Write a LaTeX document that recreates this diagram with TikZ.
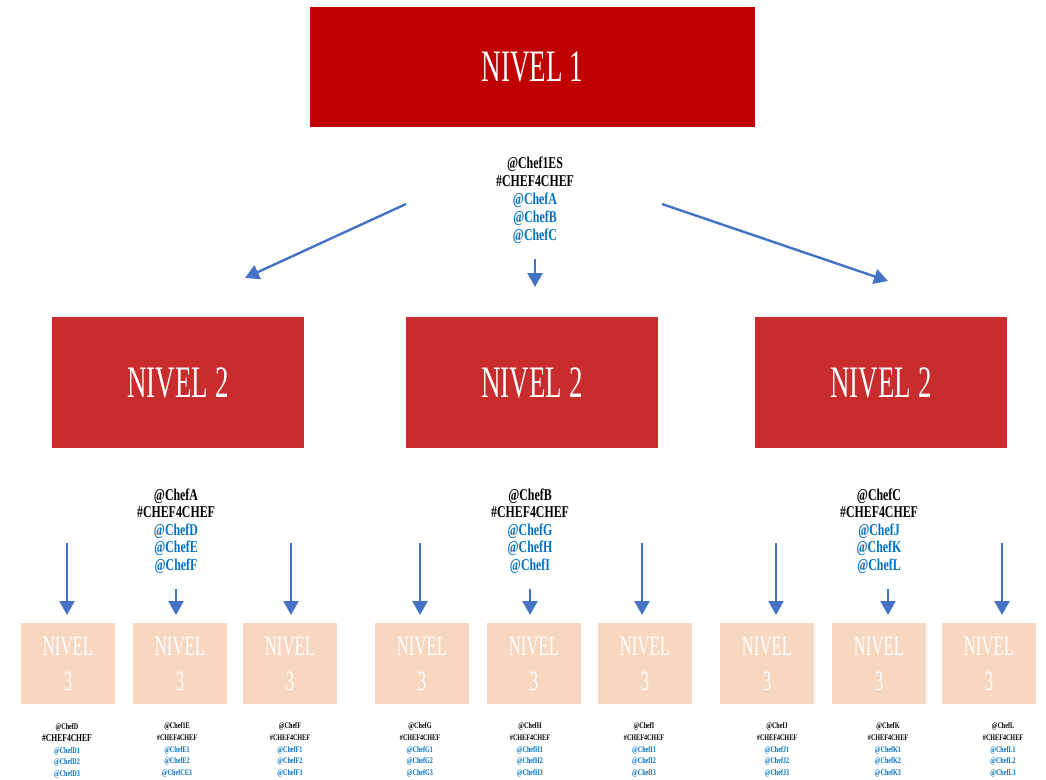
\documentclass[tikz,border=0pt]{standalone}
\usepackage{fontspec}
\newfontfamily\cond[FakeStretch=0.6]{Liberation Serif}
\newfontfamily\condb[FakeStretch=0.72]{Liberation Serif}
\usetikzlibrary{arrows.meta}
\definecolor{lvone}{HTML}{C00000}
\definecolor{lvtwo}{HTML}{C82C2C}
\definecolor{lvthree}{HTML}{F8D7C1}
\definecolor{tagblue}{HTML}{0070C0}
\definecolor{arrowblue}{HTML}{4472C4}
\tikzset{
  boxone/.style={fill=lvone, draw=none, minimum width=445pt, minimum height=120pt, text=white, font={\cond\fontsize{45}{48}\selectfont}},
  boxtwo/.style={fill=lvtwo, draw=none, minimum width=252pt, minimum height=131pt, text=white, font={\cond\fontsize{45}{48}\selectfont}},
  boxthree/.style={fill=lvthree, draw=none, minimum width=94pt, minimum height=81pt, text=white, align=center, font={\cond\fontsize{28}{35}\selectfont}},
  tagbig/.style={align=center, inner sep=0pt, font={\condb\bfseries\fontsize{16.5}{18}\selectfont}},
  tagmid/.style={align=center, inner sep=0pt, font={\condb\bfseries\fontsize{16.5}{17.6}\selectfont}},
  tagsmall/.style={align=center, inner sep=0pt, font={\condb\bfseries\fontsize{8.5}{11.8}\selectfont}},
  conn/.style={draw=arrowblue, line width=2.4pt, -{Triangle[length=14pt,width=15pt]}},
}
\newcommand{\blu}[1]{\textcolor{tagblue}{#1}}
\begin{document}
\begin{tikzpicture}[x=1pt,y=-1pt]
\useasboundingbox (0,0) rectangle (1046,779);
% Level 1
\node[boxone] (n1) at (532.5,67) {NIVEL 1};
\node[tagbig] (t1) at (535,200) {@Chef1ES\\\#CHEF4CHEF\\\blu{@ChefA}\\\blu{@ChefB}\\\blu{@ChefC}};
% Level 2
\node[boxtwo] (n2a) at (178,382.5) {NIVEL 2};
\node[boxtwo] (n2b) at (532,382.5) {NIVEL 2};
\node[boxtwo] (n2c) at (881,382.5) {NIVEL 2};
% arrows level 1 -> 2
\coordinate (a1s) at (406,204); \coordinate (a1e) at (245,278);
\coordinate (a2s) at (535,259); \coordinate (a2e) at (535,287);
\coordinate (a3s) at (662,204); \coordinate (a3e) at (888,281);
\draw[conn] (a1s) -- (a1e);
\draw[conn] (a2s) -- (a2e);
\draw[conn] (a3s) -- (a3e);
% Level 2 tags
\node[tagmid] (t2a) at (176,531) {@ChefA\\\#CHEF4CHEF\\\blu{@ChefD}\\\blu{@ChefE}\\\blu{@ChefF}};
\node[tagmid] (t2b) at (530,531) {@ChefB\\\#CHEF4CHEF\\\blu{@ChefG}\\\blu{@ChefH}\\\blu{@ChefI}};
\node[tagmid] (t2c) at (879,531) {@ChefC\\\#CHEF4CHEF\\\blu{@ChefJ}\\\blu{@ChefK}\\\blu{@ChefL}};
% Level 3 boxes
\foreach \nm/\cx in {d/68,e/180,f/290,g/422,h/534,i/645,j/767,k/879,l/989}{
  \node[boxthree] (n3\nm) at (\cx,663.5) {NIVEL\\3};
}
% arrows level 2 -> 3
\foreach \nm/\ax/\sy in {d/67/543,e/176/589,f/291/543,g/420/543,h/530/589,i/642/543,j/776/543,k/888/589,l/1002/543}{
  \coordinate (s\nm) at (\ax,\sy);
  \coordinate (e\nm) at (\ax,615);
  \draw[conn] (s\nm) -- (e\nm);
}
% Level 3 tags
\node[tagsmall] (t3d) at (67,751) {@ChefD\\{\fontsize{10.5}{11.8}\selectfont\#CHEF4CHEF}\\\blu{@ChefD1}\\\blu{@ChefD2}\\\blu{@ChefD3}};
\node[tagsmall] (t3e) at (177,750) {@Chef1E\\\#CHEF4CHEF\\\blu{@ChefE1}\\\blu{@ChefE2}\\\blu{@ChefCE3}};
\node[tagsmall] (t3f) at (290,750) {@ChefF\\\#CHEF4CHEF\\\blu{@ChefF1}\\\blu{@ChefF2}\\\blu{@ChefF3}};
\node[tagsmall] (t3g) at (420,750) {@ChefG\\\#CHEF4CHEF\\\blu{@ChefG1}\\\blu{@ChefG2}\\\blu{@ChefG3}};
\node[tagsmall] (t3h) at (530,750) {@ChefH\\\#CHEF4CHEF\\\blu{@ChefH1}\\\blu{@ChefH2}\\\blu{@ChefH3}};
\node[tagsmall] (t3i) at (644,750) {@ChefI\\\#CHEF4CHEF\\\blu{@ChefI1}\\\blu{@ChefI2}\\\blu{@ChefI3}};
\node[tagsmall] (t3j) at (777,750) {@ChefJ\\\#CHEF4CHEF\\\blu{@ChefJ1}\\\blu{@ChefJ2}\\\blu{@ChefJ3}};
\node[tagsmall] (t3k) at (888,750) {@ChefK\\\#CHEF4CHEF\\\blu{@ChefK1}\\\blu{@ChefK2}\\\blu{@ChefK3}};
\node[tagsmall] (t3l) at (1003,750) {@ChefL\\\#CHEF4CHEF\\\blu{@ChefL1}\\\blu{@ChefL2}\\\blu{@ChefL3}};
\end{tikzpicture}
\end{document}
